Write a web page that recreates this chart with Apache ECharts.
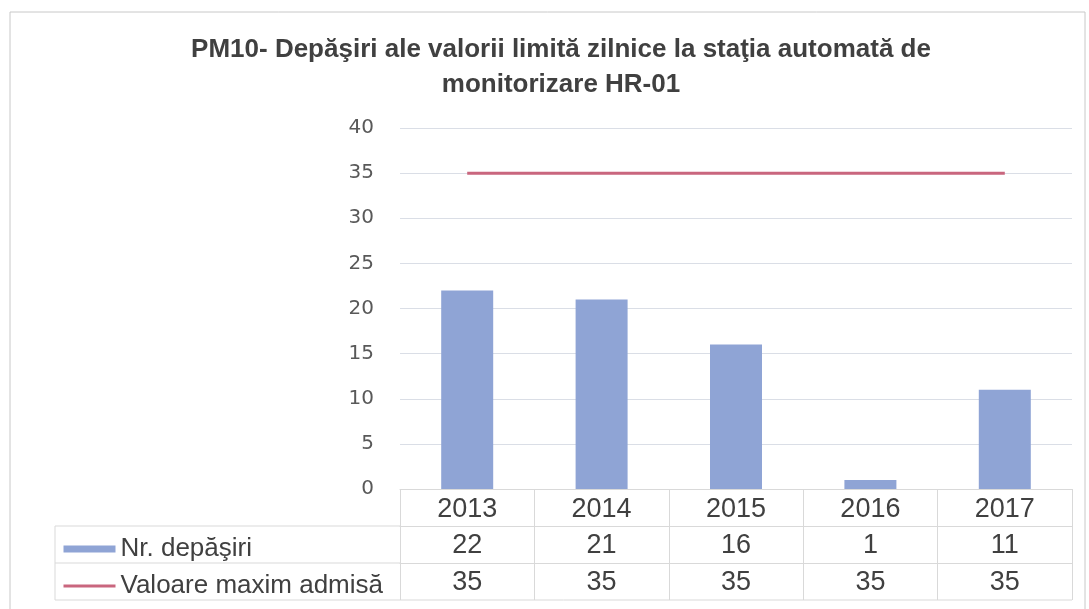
<!DOCTYPE html>
<html>
<head>
    <meta charset="utf-8">
    <title>PM10 HR-01</title>
    <script src="https://cdn.jsdelivr.net/npm/echarts@6/dist/echarts.min.js"></script>
    <style>
        html, body { margin: 0; padding: 0; background: #fff; }
    </style>
</head>
<body>
<div id="main" style="width: 1089px;height:609px;"></div>
<script type="text/javascript">
    // date
    var years = ['2013', '2014', '2015', '2016', '2017'];
    var depasiri = [22, 21, 16, 1, 11];
    var valoareMaxima = [35, 35, 35, 35, 35];
    var yTicks = { min: 0, max: 40, interval: 5 };

    var serieBare = 'Nr. depăşiri';
    var serieLinie = 'Valoare maxim admisă';

    // geometria plotului
    var gLeft = 400, gRight = 17, gTop = 128, gBottom = 120;
    var W = 1089, H = 609;
    var axisY = H - gBottom;      // linia axei x
    var rowH = 37;                // inaltimea unui rand din tabel
    var tableLeft = 55;
    var lineColor = '#d9d9d9';
    var textColor = '#404040';
    var tableFont = 'Liberation Sans, Arial, sans-serif';

    var myChart = echarts.init(document.getElementById('main'));

    function hline(x1, x2, y) {
        return { type: 'line', shape: { x1: x1, y1: y, x2: x2, y2: y },
                 style: { stroke: lineColor, lineWidth: 1 }, silent: true };
    }

    var option = {
        backgroundColor: '#ffffff',
        title: {
            text: 'PM10- Depăşiri ale valorii limită zilnice la staţia automată de\nmonitorizare HR-01',
            left: 556,
            textAlign: 'center',
            top: 27,
            textStyle: {
                fontFamily: tableFont,
                fontWeight: 'bold',
                fontSize: 26,
                lineHeight: 35,
                color: textColor
            }
        },
        legend: {
            orient: 'vertical',
            left: 57,
            top: 531,
            itemWidth: 52,
            itemHeight: 7,
            itemGap: 11,
            data: [
                { name: serieBare, icon: 'rect' },
                { name: serieLinie, itemStyle: { opacity: 0 }, lineStyle: { width: 3 } }
            ],
            textStyle: { fontFamily: tableFont, fontSize: 26, lineHeight: 26, color: textColor }
        },
        grid: {
            left: gLeft,
            right: gRight,
            top: gTop,
            bottom: gBottom
        },
        xAxis: [
            {
                type: 'category',
                data: years,
                boundaryGap: true,
                axisLine: { lineStyle: { color: lineColor } },
                axisTick: { show: true, interval: 0, length: rowH * 3, lineStyle: { color: lineColor } },
                axisLabel: { fontFamily: tableFont, fontSize: 27, color: textColor, margin: 7 }
            },
            {
                type: 'category',
                position: 'bottom',
                offset: rowH,
                data: depasiri.map(String),
                axisLine: { lineStyle: { color: lineColor } },
                axisTick: { show: false },
                axisLabel: { fontFamily: tableFont, fontSize: 27, color: textColor, margin: 6 }
            },
            {
                type: 'category',
                position: 'bottom',
                offset: rowH * 2,
                data: valoareMaxima.map(String),
                axisLine: { lineStyle: { color: lineColor } },
                axisTick: { show: false },
                axisLabel: { fontFamily: tableFont, fontSize: 27, color: textColor, margin: 6 }
            }
        ],
        yAxis: {
            type: 'value',
            min: yTicks.min,
            max: yTicks.max,
            interval: yTicks.interval,
            axisLine: { show: false },
            axisTick: { show: false },
            axisLabel: { fontFamily: 'DejaVu Sans, sans-serif', fontSize: 20, color: '#595959', margin: 26 },
            splitLine: { lineStyle: { color: '#dadee6' } }
        },
        graphic: [
            hline(tableLeft, gLeft, axisY + rowH),
            hline(tableLeft, gLeft, axisY + rowH * 2),
            hline(tableLeft, W - gRight, axisY + rowH * 3),
            { type: 'line', shape: { x1: tableLeft, y1: axisY + rowH, x2: tableLeft, y2: axisY + rowH * 3 },
              style: { stroke: lineColor, lineWidth: 1 }, silent: true },
            { type: 'rect', shape: { x: 10, y: 12, width: 1075, height: 620 },
              style: { fill: null, stroke: '#c8c8c8', lineWidth: 1 }, silent: true }
        ],
        series: [
            {
                name: serieBare,
                type: 'bar',
                data: depasiri,
                barWidth: 52,
                itemStyle: { color: '#8fa4d5' }
            },
            {
                name: serieLinie,
                type: 'line',
                data: valoareMaxima,
                symbol: 'none',
                lineStyle: { color: '#c9667e', width: 3 },
                itemStyle: { color: '#c9667e' }
            }
        ]
    };

    myChart.setOption(option);
</script>
</body>
</html>
